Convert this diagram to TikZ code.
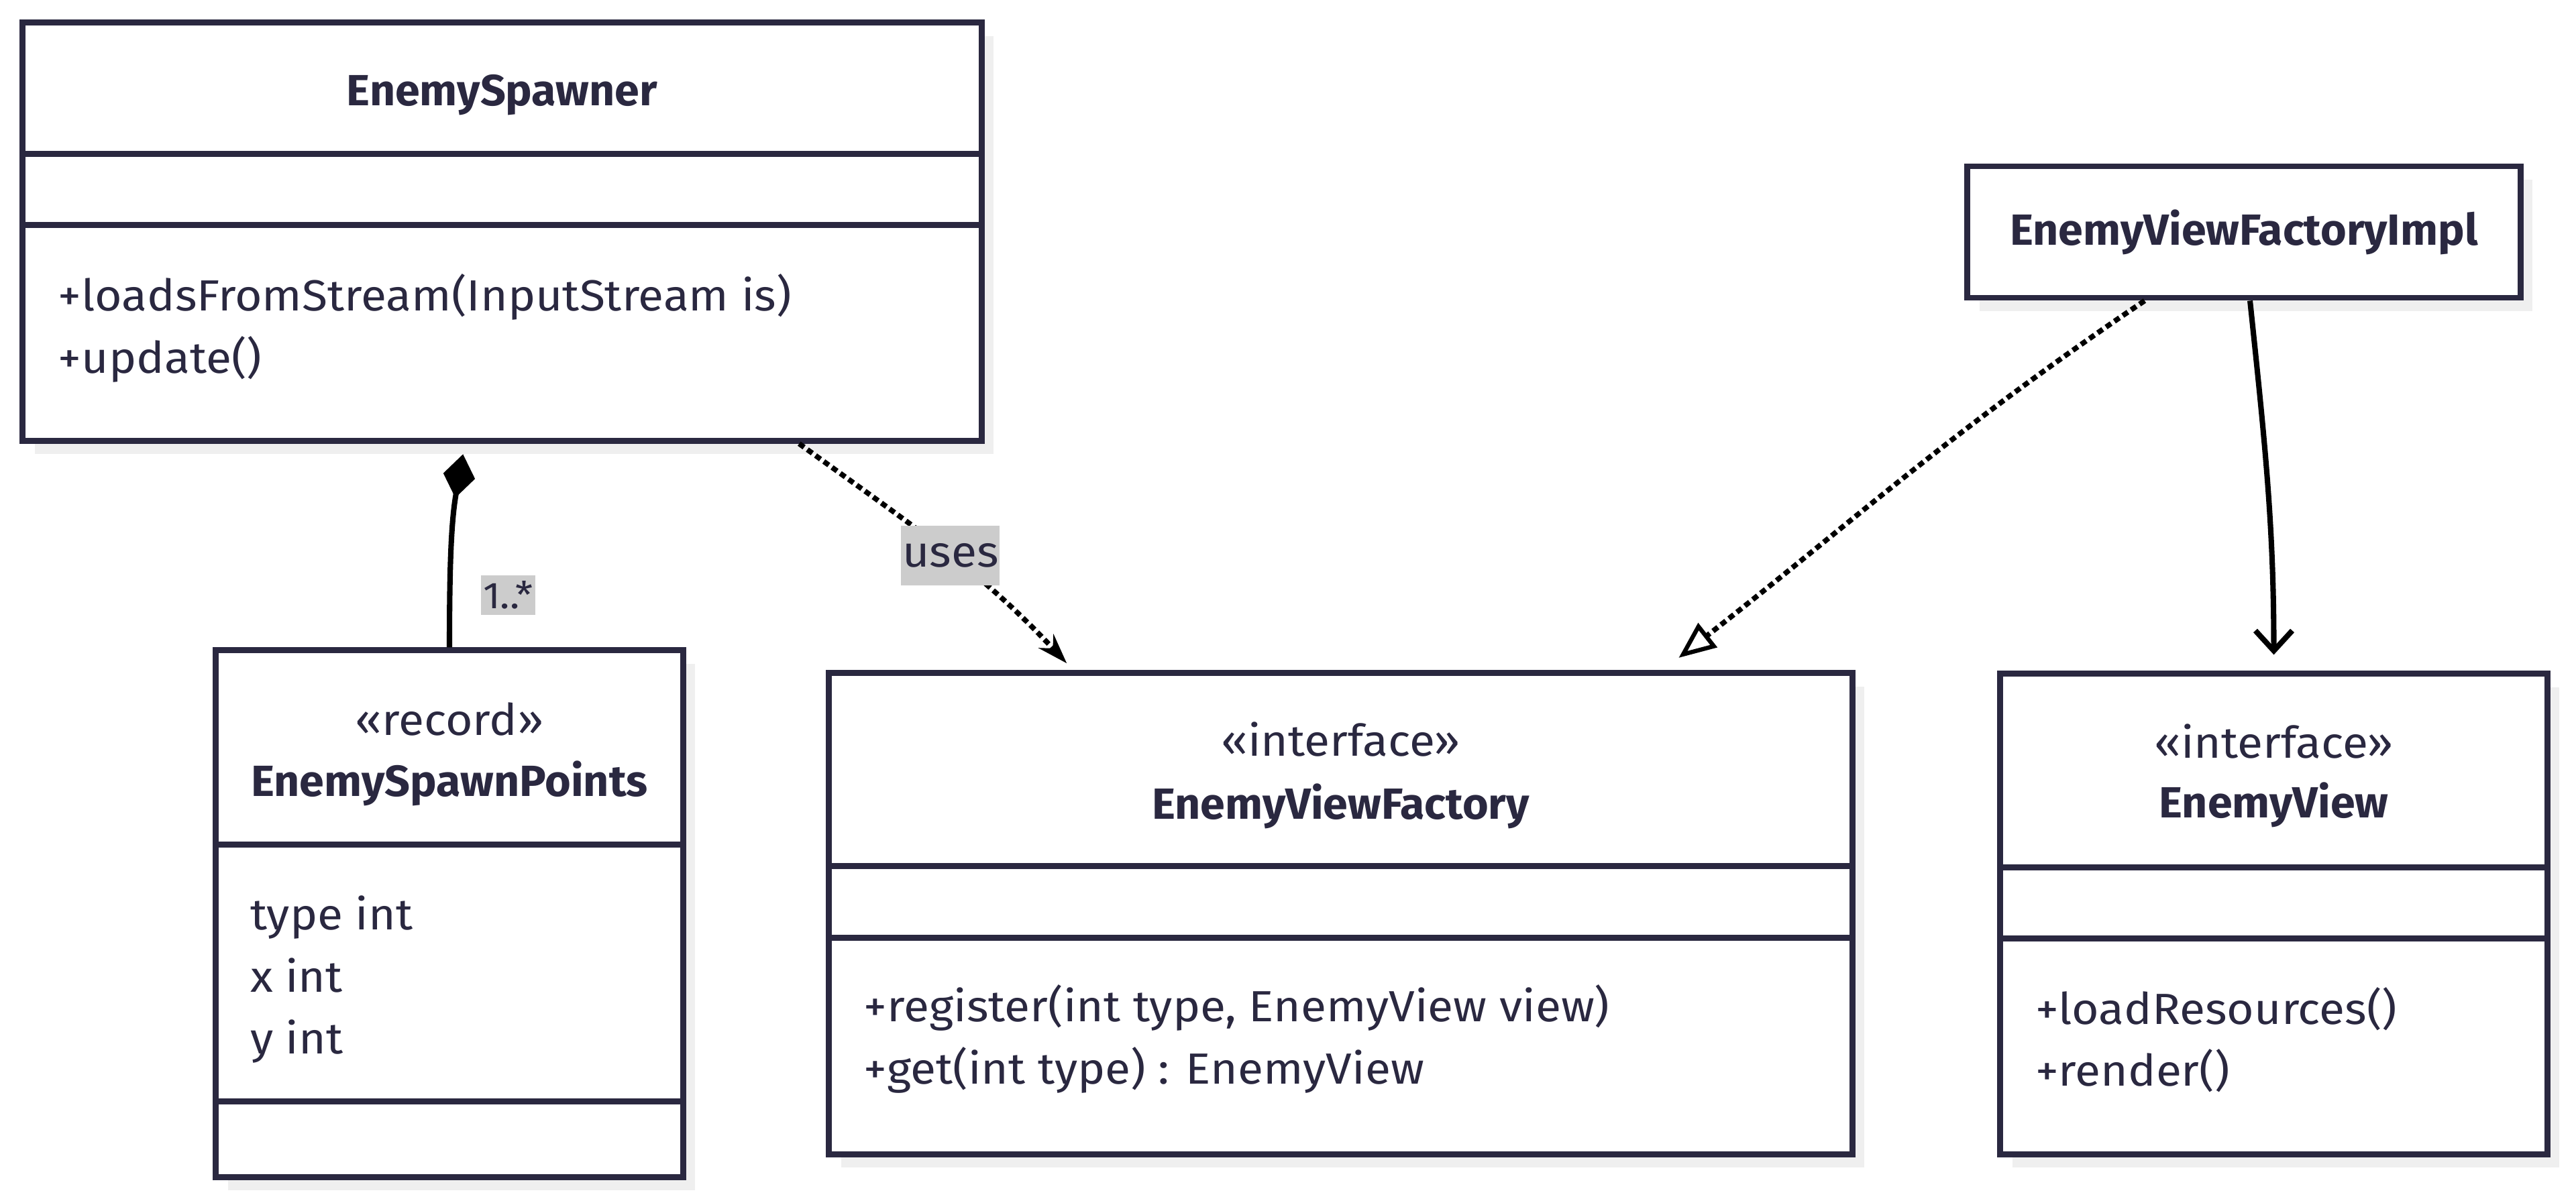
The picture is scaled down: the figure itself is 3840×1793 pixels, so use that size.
\documentclass[tikz,border=0pt]{standalone}
\usepackage{fontspec}
\setmainfont{Fira Sans}[FakeStretch=1.07]
\newfontfamily\boldface{Fira Sans}[FakeStretch=1.02]
\usetikzlibrary{arrows.meta,positioning,shadows}
\definecolor{umlnavy}{HTML}{2A2840}
\definecolor{shadowgray}{HTML}{EFEFEF}
\definecolor{labelgray}{HTML}{CCCCCC}
\tikzset{
    classbox/.style={rectangle, draw=umlnavy, line width=2.5pt, fill=white, inner sep=0pt,
        drop shadow={shadow xshift=0.18cm, shadow yshift=-0.2cm, fill=shadowgray, opacity=1}},
    divider/.style={draw=umlnavy, line width=2.5pt},
    classname/.style={font=\fontsize{18.5}{22}\boldface\bfseries, text=umlnavy, inner sep=0pt},
    stereo/.style={font=\fontsize{18.5}{22}\selectfont, text=umlnavy, inner sep=0pt},
    members/.style={font=\fontsize{18.5}{26.4}\selectfont, text=umlnavy, align=left, anchor=west, inner sep=0pt},
    edgelabel/.style={fill=labelgray, text=umlnavy, font=\fontsize{18.5}{22}\selectfont, inner xsep=0.5pt, minimum height=0.89cm},
    multlabel/.style={fill=labelgray, text=umlnavy, font=\fontsize{15.8}{18}\selectfont, inner xsep=1pt, inner ysep=2.5pt},
    myline/.style={black, line width=2.3pt},
    dotline/.style={black, line width=2.2pt, dash pattern=on 2.6pt off 1.7pt},
}
\begin{document}
\begin{tikzpicture}[x=0.01cm, y=-0.01cm]
\useasboundingbox (0,0) rectangle (3840,1793);

% class boxes
\node[classbox, minimum width=14.29cm, minimum height=6.23cm] (spawner) at (748.5,345.5) {};
\node[classbox, minimum width=6.96cm, minimum height=7.85cm] (points) at (670,1362.5) {};
\node[classbox, minimum width=15.25cm, minimum height=7.17cm] (factory) at (1998.5,1362.5) {};
\node[classbox, minimum width=8.15cm, minimum height=7.16cm] (view) at (3389.5,1363) {};
\node[classbox, minimum width=8.24cm, minimum height=1.96cm] (impl) at (3345,346) {};

% EnemySpawner
\node[classname] (spawnername) at ([yshift=-1.12cm]spawner.north) {EnemySpawner};
\draw[divider] ([yshift=-2.0cm]spawner.north west) -- ([yshift=-2.0cm]spawner.north east);
\draw[divider] ([yshift=-3.06cm]spawner.north west) -- ([yshift=-3.06cm]spawner.north east);
\node[members] (spawnerops) at ([xshift=0.57cm, yshift=-4.6cm]spawner.north west)
    {+loadsFromStream(InputStream is)\\+update()};

% EnemySpawnPoints
\node[stereo] (pointsstereo) at ([yshift=-1.07cm]points.north) {«record»};
\node[classname] (pointsname) at ([yshift=-2.03cm]points.north) {EnemySpawnPoints};
\draw[divider] ([yshift=-2.94cm]points.north west) -- ([yshift=-2.94cm]points.north east);
\draw[divider] ([yshift=-6.77cm]points.north west) -- ([yshift=-6.77cm]points.north east);
\node[members] (pointsattrs) at ([xshift=0.55cm, yshift=-4.95cm]points.north west)
    {type int\\x int\\y int};

% EnemyViewFactory
\node[stereo] (factorystereo) at ([yshift=-1.03cm]factory.north) {«interface»};
\node[classname] (factoryname) at ([yshift=-2.03cm]factory.north) {EnemyViewFactory};
\draw[divider] ([yshift=-2.92cm]factory.north west) -- ([yshift=-2.92cm]factory.north east);
\draw[divider] ([yshift=-3.99cm]factory.north west) -- ([yshift=-3.99cm]factory.north east);
\node[members] (factoryops) at ([xshift=0.56cm, yshift=-5.5cm]factory.north west)
    {+register(int type, EnemyView view)\\+get(int type) : EnemyView};

% EnemyView
\node[stereo] (viewstereo) at ([yshift=-1.05cm]view.north) {«interface»};
\node[classname] (viewname) at ([yshift=-2.0cm]view.north) {EnemyView};
\draw[divider] ([yshift=-2.93cm]view.north west) -- ([yshift=-2.93cm]view.north east);
\draw[divider] ([yshift=-3.99cm]view.north west) -- ([yshift=-3.99cm]view.north east);
\node[members] (viewops) at ([xshift=0.56cm, yshift=-5.5cm]view.north west)
    {+loadResources()\\+render()};

% EnemyViewFactoryImpl
\node[classname] (implname) at (impl.center) {EnemyViewFactoryImpl};

% relations
\draw[myline, {Diamond[length=0.66cm, width=0.48cm]}-, shorten <=0.16cm]
    ([xshift=-0.555cm]spawner.south) to[out=-100, in=90]
    node[multlabel, pos=0.76, anchor=west, xshift=0.42cm] {1..*} (points.north);
\draw[dotline, -{Stealth[length=0.45cm, width=0.3cm]}, shorten >=0.14cm]
    ([xshift=4.425cm]spawner.south) to[out=-36, in=133]
    node[edgelabel, pos=0.53] {uses} ([xshift=-3.985cm]factory.north);
\draw[dotline, -{Triangle[open, length=0.55cm, width=0.45cm, line width=1.8pt, fill=white]}, shorten >=0.3cm]
    ([xshift=-1.48cm]impl.south) to[out=-146, in=38] ([xshift=4.8cm]factory.north);
\draw[myline, -{Straight Barb[length=0.3cm, width=0.55cm]}, shorten >=0.24cm]
    ([xshift=0.09cm]impl.south) to[out=-84, in=90] (view.north);
\end{tikzpicture}
\end{document}
